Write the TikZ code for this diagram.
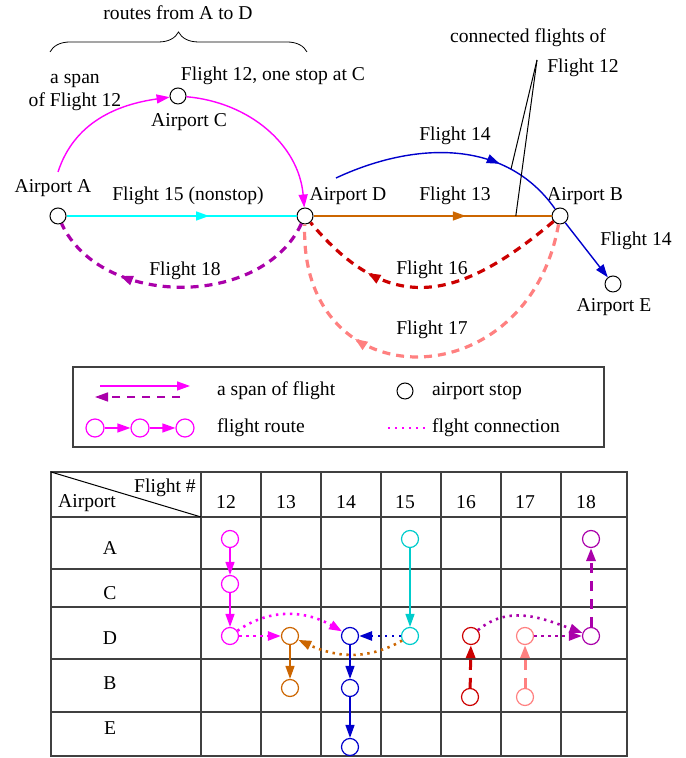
\documentclass[tikz,border=0pt]{standalone}
\usepackage{fontspec}
\setmainfont{Liberation Serif}
\usetikzlibrary{positioning,arrows.meta,decorations.markings,decorations.pathreplacing}
\definecolor{fmagenta}{RGB}{255,0,255}
\definecolor{forange}{RGB}{204,102,0}
\definecolor{fblue}{RGB}{0,0,204}
\definecolor{fcyan}{RGB}{0,255,255}
\definecolor{fteal}{RGB}{0,204,204}
\definecolor{fred}{RGB}{204,0,0}
\definecolor{fsalmon}{RGB}{255,128,128}
\definecolor{fpurple}{RGB}{170,0,170}

\begin{document}
\begin{tikzpicture}[x=0.5pt, y=0.5pt,
        every node/.style={font=\fontsize{9.8}{11.5}\selectfont},
        stop/.style={circle, draw, line width=0.5pt, minimum size=8pt, inner sep=0pt},
        tstop/.style={circle, draw, line width=0.6pt, minimum size=8.5pt, inner sep=0pt},
        tip/.style={-{Triangle[length=6.5pt,width=4.5pt]}},
        span/.style={line width=0.7pt},
        midarrow/.style={postaction={decorate},
            decoration={markings, mark=at position #1 with {\arrow{Triangle[length=6.5pt,width=4.5pt]}}}},
        thickdash/.style={line width=1.6pt, dash pattern=on 4pt off 3pt},
        tdash/.style={line width=1.5pt, dash pattern=on 5pt off 4pt},
        conn/.style={line width=1.3pt, dash pattern=on 1.2pt off 2.3pt},
        gridline/.style={line width=0.6pt, black!75}
    ]
    \useasboundingbox (0,0) rectangle (685,758);

    \node[stop] (A) at (58,542) {};
    \node[stop] (C) at (178,662) {};
    \node[stop] (D) at (305,542) {};
    \node[stop] (B) at (560,542) {};
    \node[stop] (E) at (613,474) {};
    \node (labA) at (53,570) {Airport A};
    \node (labC) at (189,636) {Airport C};
    \node (labD) at (348,562) {Airport D};
    \node (labB) at (585,562) {Airport B};
    \node (labE) at (614,451) {Airport E};

    \coordinate (br1) at (50,706);
    \coordinate (br2) at (307,706);
    \draw[decorate, decoration={brace, amplitude=10pt}] (br1) -- (br2);
    \node (routes) at (178,745) {routes from A to D};
    \node[align=center] (span12) at (75,665) {a span\\of Flight 12};
    \node (stop12) at (273,682) {Flight 12, one stop at C};

    \coordinate (a12) at (58,586);
    \draw[span, fmagenta, tip] (a12) to[out=72,in=188] (C);
    \draw[span, fmagenta, tip] (C) to[out=-5,in=95] (D);
    \draw[span, fcyan, midarrow=0.62] (A) -- (D);
    \node (l15) at (188,562) {Flight 15 (nonstop)};
    \draw[span, forange, midarrow=0.64] (D) -- coordinate[pos=0.85] (p13) (B);
    \node (l13) at (455,562) {Flight 13};
    \coordinate (d14) at (336,580);
    \draw[span, fblue, midarrow=0.7] (d14) to[out=25,in=125] coordinate[pos=0.75] (p14) (B);
    \node (l14) at (455,622) {Flight 14};
    \draw[span, fblue, tip] (B) -- (E);
    \node (l14e) at (636,517) {Flight 14};
    \draw[thickdash, fpurple, midarrow=0.72] (D) to[out=-115,in=-65] (A);
    \node (l18) at (185,487) {Flight 18};
    \draw[thickdash, fred, midarrow=0.73, looseness=1.3] (B) to[out=-140,in=-50] (D);
    \node (l16) at (432,488) {Flight 16};
    \draw[thickdash, fsalmon, midarrow=0.68, looseness=1.8] (B) to[out=-100,in=-92] (D);
    \node (l17) at (432,428) {Flight 17};

    \coordinate (cf) at (537,698);
    \node (cfl) at (528,720) {connected flights of};
    \node (cf12) at (583,690) {Flight 12};
    \draw[line width=0.5pt] (cf) -- (p14);
    \draw[line width=0.5pt] (cf) -- (p13);

    % legend
    \draw[line width=0.6pt, black!75] (73,311) rectangle (604,391);
    \coordinate (ls1) at (100,372);
    \coordinate (le1) at (190,372);
    \coordinate (ls2) at (180,361);
    \coordinate (le2) at (95,361);
    \draw[span, fmagenta, tip] (ls1) -- (le1);
    \draw[span, fpurple, dash pattern=on 4pt off 3.5pt, tip] (ls2) -- (le2);
    \node[anchor=west] (lspan) at (210,367) {a span of flight};
    \node[stop] (lstop) at (405,367) {};
    \node[anchor=west] (lstopt) at (425,367) {airport stop};
    \node[tstop, fmagenta, minimum size=9pt] (r1) at (95,330) {};
    \node[tstop, fmagenta, minimum size=9pt] (r2) at (140,330) {};
    \node[tstop, fmagenta, minimum size=9pt] (r3) at (185,330) {};
    \draw[span, fmagenta, tip] (r1) -- (r2);
    \draw[span, fmagenta, tip] (r2) -- (r3);
    \node[anchor=west] (lroute) at (210,330) {flight route};
    \coordinate (lc1) at (388,330);
    \coordinate (lc2) at (425,330);
    \draw[conn, fmagenta] (lc1) -- (lc2);
    \node[anchor=west] (lconn) at (425,330) {flght connection};

    % table
    \draw[gridline] (51,2) rectangle (627,286);
    \foreach \x in {201,261,321,381,441,501,561}
        \draw[gridline] (\x,2) -- (\x,286);
    \foreach \y in {241,189,151,99,46}
        \draw[gridline] (51,\y) -- (627,\y);
    \draw[line width=0.5pt] (51,286) -- (201,241);
    \node (hflight) at (165,270) {Flight \#};
    \node (hairport) at (87,255) {Airport};
    \foreach \n/\x in {12/226,13/286,14/346,15/405,16/466,17/525,18/586}
        \node (h\n) at (\x,256) {\n};
    \foreach \r/\y in {A/210,C/165,D/120,B/75,E/30}
        \node (row\r) at (110,\y) {\r};

    \node[tstop, fmagenta] (t12a) at (230,219) {};
    \node[tstop, fmagenta] (t12c) at (230,174) {};
    \node[tstop, fmagenta] (t12d) at (230,122) {};
    \node[tstop, forange] (t13d) at (290,122) {};
    \node[tstop, forange] (t13b) at (290,70) {};
    \node[tstop, fblue] (t14d) at (350,122) {};
    \node[tstop, fblue] (t14b) at (350,70) {};
    \node[tstop, fblue] (t14e) at (350,11) {};
    \node[tstop, fteal] (t15a) at (410,219) {};
    \node[tstop, fteal] (t15d) at (410,122) {};
    \node[tstop, fred] (t16d) at (471,122) {};
    \node[tstop, fred] (t16b) at (470,61) {};
    \node[tstop, fsalmon] (t17d) at (525,122) {};
    \node[tstop, fsalmon] (t17b) at (525,61) {};
    \node[tstop, fpurple] (t18a) at (591,219) {};
    \node[tstop, fpurple] (t18d) at (591,122) {};

    \draw[span, fmagenta, tip] (t12a) -- (t12c);
    \draw[span, fmagenta, tip] (t12c) -- (t12d);
    \draw[span, forange, tip] (t13d) -- (t13b);
    \draw[span, fblue, tip] (t14d) -- (t14b);
    \draw[span, fblue, tip] (t14b) -- (t14e);
    \draw[span, fteal, tip] (t15a) -- (t15d);
    \draw[tdash, fred, tip] (t16b) -- (t16d);
    \draw[tdash, fsalmon, tip] (t17b) -- (t17d);
    \draw[tdash, fpurple, tip] (t18d) -- (t18a);

    \draw[conn, fmagenta, tip] (t12d) -- (t13d);
    \draw[conn, fmagenta, tip] (t12d) to[out=35,in=150] (t14d);
    \draw[conn, forange, tip] (t15d) to[out=-150,in=-25] (t13d);
    \draw[conn, fblue, tip] (t15d) -- (t14d);
    \draw[conn, fpurple, tip] (t16d) to[out=40,in=160] (t18d);
    \draw[conn, fpurple, tip] (t17d) -- (t18d);
\end{tikzpicture}
\end{document}
